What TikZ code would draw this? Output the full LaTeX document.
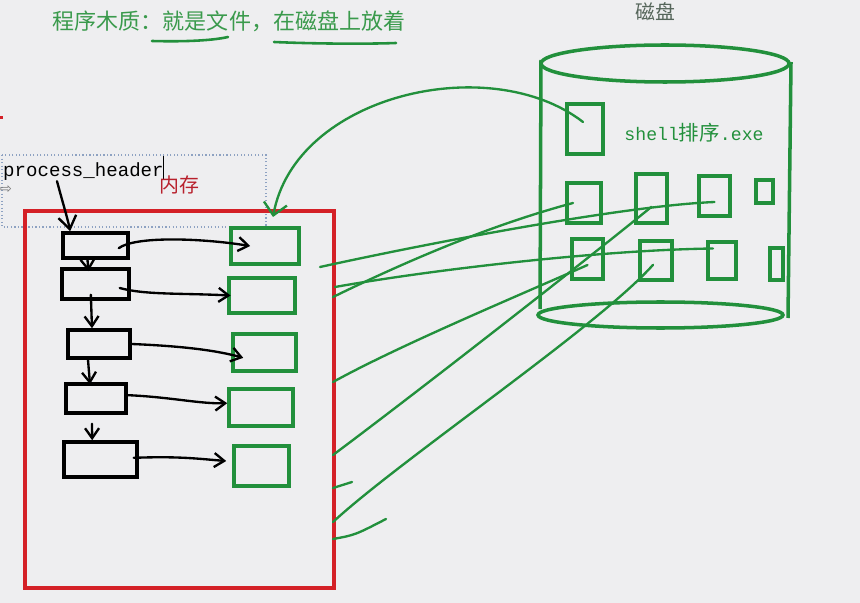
\documentclass[tikz,border=0pt]{standalone}
\usepackage{fontspec}
\setmonofont{Liberation Mono}
\newfontfamily\cjk{Noto Sans CJK SC}
\newfontfamily\symf{DejaVu Sans}
\usetikzlibrary{arrows.meta}
\definecolor{bgGrey}{HTML}{EEEEF0}
\definecolor{dGreen}{HTML}{22903C}
\definecolor{tGreen}{HTML}{3A9A4C}
\definecolor{mRed}{HTML}{D42027}
\definecolor{tRed}{HTML}{B8202C}
\definecolor{dInk}{HTML}{55655A}
\definecolor{selBlue}{HTML}{8EA2C2}
\tikzset{
  pbox/.style={draw=black, line width=3pt, inner sep=0pt},
  mbox/.style={draw=dGreen, line width=3pt, inner sep=0pt},
  dbox/.style={draw=dGreen, line width=3pt, inner sep=0pt},
  link/.style={-{Straight Barb[length=3mm,width=4.2mm]}, line width=2pt, black, line cap=round},
  wire/.style={dGreen, line width=2pt, line cap=round},
}

\begin{document}
\begin{tikzpicture}[x=0.3mm, y=-0.3mm]
  \useasboundingbox (0,0) rectangle (860,603);
  \fill[bgGrey] (0,0) rectangle (860,603);

  % title and its underlines
  \node[text=tGreen, font=\cjk\fontsize{18.8}{20}\selectfont, inner sep=0pt] (title) at (229,21) {程序木质：就是文件，在磁盘上放着};
  \draw[wire, line width=2.2pt] (152,41) .. controls (190,42) and (215,40) .. (228,37);
  \draw[wire, line width=2.2pt] (274,42) .. controls (320,44) and (370,44) .. (396,43);

  % disk
  \node[text=dInk, font=\cjk\fontsize{17}{18}\selectfont, inner sep=0pt] (diskname) at (655,12) {磁盘};
  \draw[dGreen, line width=3pt] (665,63.5) ellipse [x radius=37.2mm, y radius=5.55mm];
  \draw[dGreen, line width=3pt] (660.5,315) ellipse [x radius=36.75mm, y radius=3.9mm];
  \draw[dGreen, line width=3pt] (541,60) -- (540,309);
  \draw[dGreen, line width=3pt] (791,62) -- (788,318);

  \node[dbox, minimum width=10.8mm, minimum height=15mm] (b1) at (585,129) {};
  \node[dbox, minimum width=10.2mm, minimum height=12mm] (b2) at (584,203) {};
  \node[dbox, minimum width=9.3mm, minimum height=14.7mm] (b3) at (651.5,198.5) {};
  \node[dbox, minimum width=9.3mm, minimum height=12mm] (b4) at (714.5,196) {};
  \node[dbox, minimum width=5.1mm, minimum height=6.9mm] (b5) at (764.5,191.5) {};
  \node[dbox, minimum width=9.3mm, minimum height=12mm] (b6) at (587.5,259) {};
  \node[dbox, minimum width=9.6mm, minimum height=11.7mm] (b7) at (656,260.5) {};
  \node[dbox, minimum width=8.4mm, minimum height=11.1mm] (b8) at (722,260.5) {};
  \node[dbox, minimum width=3.9mm, minimum height=9.6mm] (b9) at (776.5,264) {};
  \node[text=dGreen, inner sep=0pt] (exe) at (694,133) {\fontsize{15.5}{16}\selectfont\ttfamily shell{\cjk\fontsize{17.5}{18}\selectfont 排序}.exe};

  % memory
  \fill[mRed] (0,116.5) rectangle (3,119.5);
  \draw[selBlue, dotted, line width=1pt] (2,155) rectangle (266,227);
  \node[font=\ttfamily\fontsize{16.3}{18}\selectfont, inner sep=0pt, anchor=base west] (ph) at (3,177) {process\_header};
  \draw[line width=0.7pt] (163,156) -- (163,179);
  \node[text=black!55, font=\symf\fontsize{12}{12}\selectfont, inner sep=0pt] (mv) at (6,190) {⇨};
  \node[text=tRed, font=\cjk\fontsize{17}{18}\selectfont, inner sep=0pt] (ramname) at (179,185) {内存};
  \node[draw=mRed, line width=3pt, minimum width=92.7mm, minimum height=113.1mm] (ram) at (179.5,399.5) {};

  \node[pbox, minimum width=19.5mm, minimum height=7.5mm] (pcb1) at (95.5,245.5) {};
  \node[pbox, minimum width=20.1mm, minimum height=9mm] (pcb2) at (95.5,284) {};
  \node[pbox, minimum width=18.6mm, minimum height=8.4mm] (pcb3) at (99,344) {};
  \node[pbox, minimum width=18mm, minimum height=8.7mm] (pcb4) at (96,398.5) {};
  \node[pbox, minimum width=21.9mm, minimum height=10.5mm] (pcb5) at (100.5,459.5) {};

  \node[mbox, minimum width=20.4mm, minimum height=10.8mm] (m1) at (265,246) {};
  \node[mbox, minimum width=19.8mm, minimum height=10.5mm] (m2) at (262,295.5) {};
  \node[mbox, minimum width=18.9mm, minimum height=11.1mm] (m3) at (264.5,352.5) {};
  \node[mbox, minimum width=19.2mm, minimum height=11.1mm] (m4) at (261,407.5) {};
  \node[mbox, minimum width=16.5mm, minimum height=12mm] (m5) at (261.5,466) {};

  % list links
  \draw[link, -{Straight Barb[length=3.9mm,width=5.4mm]}] ([xshift=16.2mm]ph.south west) .. controls (62,200) and (68,220) .. ([xshift=-7.6mm]pcb1.north);
  \draw[link] ([xshift=-2.4mm]pcb1.south) -- ([xshift=-2.1mm,yshift=-1.2mm]pcb2.north);
  \draw[link] ([xshift=-1.4mm,yshift=1.8mm]pcb2.south) -- ([xshift=-2.1mm]pcb3.north);
  \draw[link] ([xshift=-3.3mm]pcb3.south) -- ([xshift=-1.8mm,yshift=-0.6mm]pcb4.north);
  \draw[link] ([xshift=-1.2mm,yshift=-2.7mm]pcb4.south) -- ([xshift=-2.5mm]pcb5.north);

  \draw[link] ([xshift=-3.3mm,yshift=-0.8mm]pcb1.east) .. controls (135,236) and (200,238) .. ([xshift=6.3mm]m1.west);
  \draw[link] ([xshift=-3.3mm,yshift=-1.2mm]pcb2.east) .. controls (145,295) and (180,293) .. ([xshift=1mm]m2.west);
  \draw[link] (pcb3.east) .. controls (180,346) and (215,350) .. ([xshift=3.6mm,yshift=-1.6mm]m3.west);
  \draw[link] ([yshift=1mm]pcb4.east) .. controls (170,397) and (200,404) .. ([yshift=1.3mm]m4.west);
  \draw[link] ([xshift=-1.5mm,yshift=0.5mm]pcb5.east) .. controls (180,456) and (200,459) .. ([xshift=-1.8mm,yshift=1.5mm]m5.west);

  % loading from disk
  \coordinate (t0) at (273,217);
  \coordinate (e1) at (333,297);
  \coordinate (e2) at (320,267);
  \coordinate (e3) at (335,287);
  \coordinate (e4) at (333,382);
  \coordinate (e5) at (333,455);
  \coordinate (e6) at (333,522);
  \coordinate (e7) at (333,488);
  \coordinate (f7) at (352,482);
  \coordinate (e8) at (333,539);
  \coordinate (f8) at (386,519);

  \draw[wire, -{Straight Barb[length=3.6mm,width=7mm]}] ([xshift=-0.6mm,yshift=2.1mm]b1.center) .. controls (490,50) and (295,95) .. (t0);
  \draw[wire] ([xshift=-3.3mm]b2.center) .. controls (491,225) and (409,260) .. (e1);
  \draw[wire] ([yshift=-1.8mm]b4.center) .. controls (620,206) and (420,245) .. (e2);
  \draw[wire] ([xshift=-2.7mm,yshift=3.6mm]b8.center) .. controls (600,250) and (430,270) .. (e3);
  \draw[wire] ([yshift=-1.8mm]b6.center) .. controls (520,295) and (400,345) .. (e4);
  \draw[wire] ([yshift=-2.5mm]b3.center) .. controls (580,265) and (420,390) .. (e5);
  \draw[wire] ([xshift=-0.9mm,yshift=-1.3mm]b7.center) .. controls (600,325) and (400,460) .. (e6);
  \draw[wire] (e7) -- (f7);
  \draw[wire] (e8) .. controls (355,535) .. (f8);
\end{tikzpicture}
\end{document}
